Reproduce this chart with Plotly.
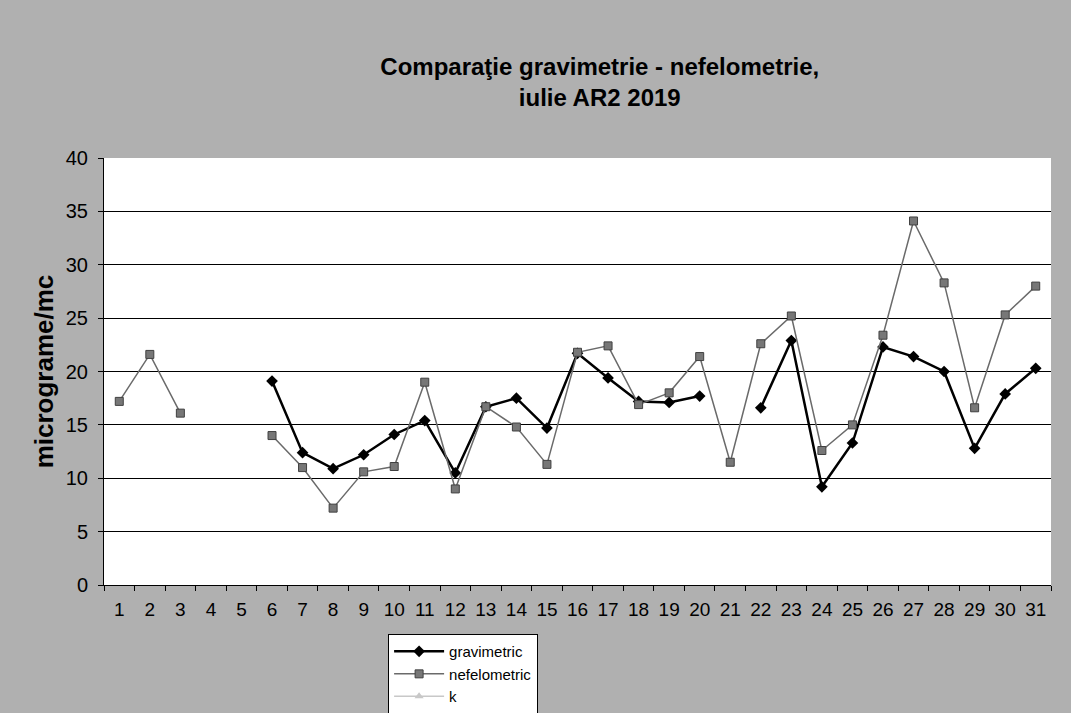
import plotly.graph_objects as go

# zilele lunii iulie
zile = list(range(1, 32))

# valori (None = lipsa date)
gravimetric = [None, None, None, None, None, 19.1, 12.4, 10.9, 12.2, 14.1,
               15.4, 10.5, 16.7, 17.5, 14.7, 21.7, 19.4, 17.2, 17.1, 17.7,
               None, 16.6, 22.9, 9.2, 13.3, 22.3, 21.4, 20.0, 12.8, 17.9, 20.3]
nefelometric = [17.2, 21.6, 16.1, None, None, 14.0, 11.0, 7.2, 10.6, 11.1,
                19.0, 9.0, 16.7, 14.8, 11.3, 21.8, 22.4, 16.9, 18.0, 21.4,
                11.5, 22.6, 25.2, 12.6, 15.0, 23.4, 34.1, 28.3, 16.6, 25.3, 28.0]
k = [None] * 31

font = "Liberation Sans, Arial, sans-serif"

fig = go.Figure()
fig.add_trace(go.Scatter(x=zile, y=gravimetric, name="gravimetric", mode="lines+markers",
                         line=dict(color="black", width=2.5),
                         marker=dict(symbol="diamond", size=9, color="black")))
fig.add_trace(go.Scatter(x=zile, y=nefelometric, name="nefelometric", mode="lines+markers",
                         line=dict(color="#6a6a6a", width=1.5),
                         marker=dict(symbol="square", size=8, color="#777777",
                                     line=dict(color="#404040", width=1))))
fig.add_trace(go.Scatter(x=zile, y=k, name="k", mode="lines+markers",
                         line=dict(color="#c8c8c8", width=1.5),
                         marker=dict(symbol="triangle-up", size=8, color="#c8c8c8")))

fig.update_layout(
    width=1071, height=713,
    margin=dict(l=104, r=20, t=158, b=128, autoexpand=False),
    paper_bgcolor="#b0b0b0",
    plot_bgcolor="white",
    font=dict(family=font, color="black"),
    title=dict(text="<b>Comparaţie gravimetrie - nefelometrie,<br>iulie AR2 2019</b>",
               x=0.56, xanchor="center", y=0.895, yanchor="top",
               font=dict(size=24, family=font)),
    showlegend=True,
    legend=dict(x=0.30, xanchor="left", y=-0.115, yanchor="top",
                bgcolor="white", bordercolor="black", borderwidth=1,
                font=dict(size=15, family=font), tracegroupgap=0,
                itemwidth=50),
)
fig.update_xaxes(range=[0.5, 31.5], tickvals=zile, ticktext=[str(z) for z in zile],
                 showgrid=False, zeroline=False, showline=True, linecolor="black",
                 ticks="", tickfont=dict(size=19), ticklabelstandoff=7, automargin=False,
                 minor=dict(tickvals=[z + 0.5 for z in range(0, 32)], ticks="outside",
                            ticklen=5, tickcolor="black"))
fig.update_yaxes(range=[0, 40], dtick=5, showgrid=True, gridcolor="black", gridwidth=1,
                 zeroline=False, showline=True, linecolor="black",
                 ticks="outside", ticklen=5, tickcolor="black", tickfont=dict(size=20),
                 ticklabelstandoff=6, automargin=False,
                 title=dict(text="<b>micrograme/mc</b>", font=dict(size=26), standoff=4))

fig.write_html("out.html", config={"displayModeBar": False},
               post_script="document.body.style.margin='0';")
